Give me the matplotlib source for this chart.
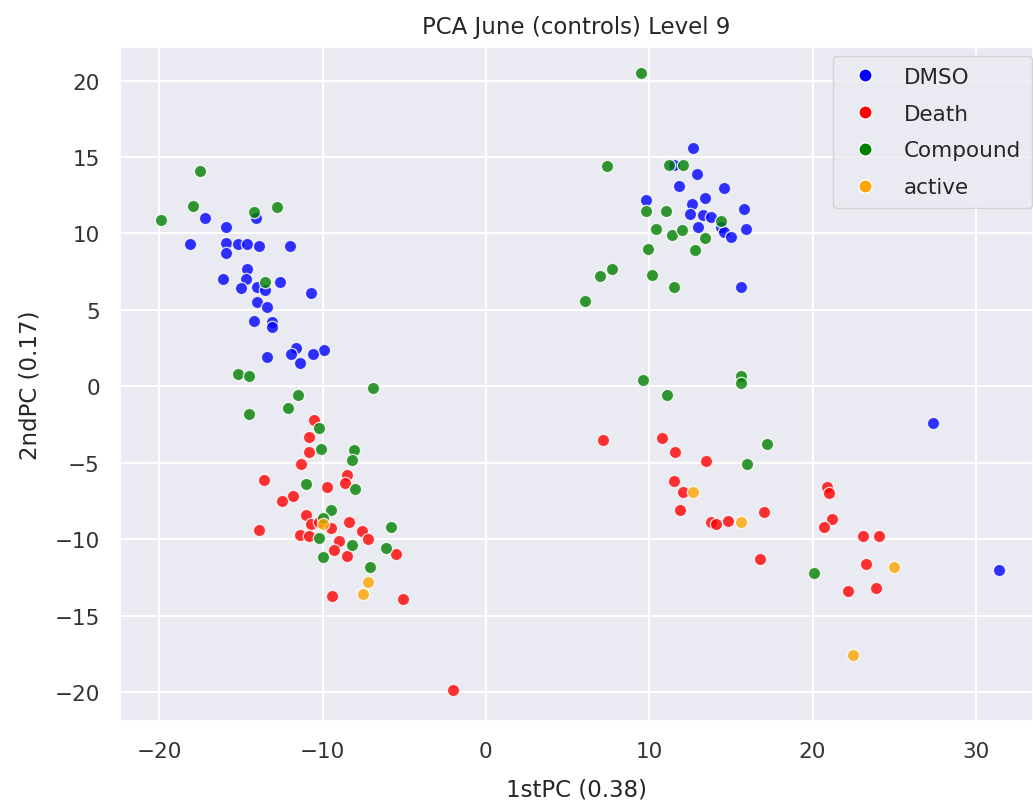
import matplotlib
matplotlib.use("Agg")
import matplotlib.pyplot as plt
import seaborn as sns
from matplotlib.lines import Line2D

sns.set_theme(style="darkgrid")
plt.rcParams['font.family'] = ['DejaVu Sans']

categories = ["DMSO", "Death", "Compound", "active"]
colors = ["blue", "red", "green", "orange"]

dmso_x = [-17.2, -14.1, -15.9, -18.1, -15.9, -15.2, -14.6, -13.9, -12.0, -15.9, -14.6, -14.7,
          -16.1, -12.6, -15.0, -14.0, -13.5, -10.7, -14.0, -13.4, -14.2, -13.1, -13.1, -11.6,
          -9.9, -11.9, -10.6, -13.4, -11.4,
          12.7, 11.5, 12.9, 11.8, 14.6, 9.8, 13.4, 12.6, 12.5, 13.3, 13.8, 15.8, 13.0, 14.4,
          14.6, 15.0, 15.9, 15.6, 27.4, 31.4]
dmso_y = [11.0, 11.0, 10.4, 9.3, 9.4, 9.3, 9.3, 9.2, 9.2, 8.7, 7.7, 7.0,
          7.0, 6.8, 6.4, 6.5, 6.3, 6.1, 5.5, 5.2, 4.3, 4.2, 3.9, 2.5,
          2.4, 2.1, 2.1, 1.9, 1.5,
          15.6, 14.5, 13.9, 13.1, 13.0, 12.2, 12.3, 11.9, 11.3, 11.2, 11.1, 11.6, 10.4, 10.4,
          10.1, 9.8, 10.3, 6.5, -2.4, -12.0]

death_x = [-10.5, -10.8, -10.8, -11.3, -8.5, -8.6, -13.6, -9.7, -11.8, -12.5, -11.0, -10.7,
           -10.2, -9.5, -8.4, -7.6, -7.2, -13.9, -11.4, -10.8, -9.0, -9.3, -8.5, -5.5,
           -9.4, -5.1, -2.0,
           7.2, 10.8, 11.6, 13.5, 11.5, 12.1, 11.9, 13.8, 14.1, 14.8, 17.0, 16.8,
           20.9, 21.0, 21.2, 20.7, 23.1, 24.1, 23.3, 23.9, 22.2]
death_y = [-2.2, -3.3, -4.3, -5.1, -5.8, -6.3, -6.1, -6.6, -7.2, -7.5, -8.4, -9.0,
           -8.9, -9.3, -8.9, -9.5, -10.0, -9.4, -9.7, -9.8, -10.1, -10.7, -11.1, -11.0,
           -13.7, -13.9, -19.9,
           -3.5, -3.4, -4.3, -4.9, -6.2, -6.9, -8.1, -8.9, -9.0, -8.8, -8.2, -11.3,
           -6.6, -7.0, -8.7, -9.2, -9.8, -9.8, -11.6, -13.2, -13.4]

compound_x = [-17.5, -17.9, -19.9, -14.2, -12.8, -13.5, -15.2, -14.5, -6.9, -11.5, -12.1,
              -14.5, -10.2, -10.1, -8.1, -8.2, -11.0, -8.0, -9.5, -10.0, -5.8, -10.2, -8.2,
              -6.1, -10.0, -7.1,
              9.5, 7.4, 11.2, 12.1, 9.8, 11.0, 14.4, 10.4, 11.4, 12.0, 13.4, 9.9, 12.8, 7.7,
              7.0, 10.2, 11.5, 6.1, 9.6, 15.6, 15.6, 11.1, 17.2, 16.0, 20.1]
compound_y = [14.1, 11.8, 10.9, 11.4, 11.7, 6.8, 0.8, 0.7, -0.1, -0.6, -1.4,
              -1.8, -2.7, -4.1, -4.2, -4.8, -6.4, -6.7, -8.1, -8.6, -9.2, -9.9, -10.4,
              -10.6, -11.2, -11.8,
              20.5, 14.4, 14.5, 14.5, 11.5, 11.5, 10.8, 10.3, 9.9, 10.2, 9.7, 9.0, 8.9, 7.7,
              7.2, 7.3, 6.5, 5.6, 0.4, 0.7, 0.2, -0.6, -3.8, -5.1, -12.2]

active_x = [-10.0, -7.2, -7.5, 12.7, 15.6, 25.0, 22.5]
active_y = [-9.0, -12.8, -13.6, -6.9, -8.9, -11.8, -17.6]

W, H = 1033, 803
fig = plt.figure(figsize=(W / 100, H / 100), dpi=100)
ax = fig.add_axes([120 / W, 81 / H, (1033 - 120) / W, (722 - 48) / H])

series = [(dmso_x, dmso_y), (death_x, death_y), (compound_x, compound_y), (active_x, active_y)]
for (xs, ys), c in zip(series, colors):
    ax.scatter(xs, ys, s=78, c=c, alpha=0.8, edgecolors="white", linewidths=1.0, zorder=3)

ax.set_xlim(-22.4, 33.5)
ax.set_ylim(-21.9, 22.2)
ax.set_xticks([-20, -10, 0, 10, 20, 30])
ax.set_yticks([-20, -15, -10, -5, 0, 5, 10, 15, 20])
ax.tick_params(labelsize=15.5, colors="#333333", pad=8.5)
ax.grid(True, color="white", linewidth=1.5)

ax.set_title("PCA June (controls) Level 9", fontsize=16.5, color="#262626", pad=10)
ax.set_xlabel("1stPC (0.38)", fontsize=16.5, color="#262626", labelpad=12)
ax.set_ylabel("2ndPC (0.17)", fontsize=16.5, color="#262626", labelpad=9)

handles = [Line2D([0], [0], marker="o", linestyle="", markersize=9.5, markerfacecolor=c,
                  markeredgecolor="white", markeredgewidth=1.0) for c in colors]
leg = ax.legend(handles, categories, loc="upper right", bbox_to_anchor=(0.999, 0.9866),
                borderaxespad=0, fontsize=15.5, frameon=True, handletextpad=0.8,
                borderpad=0.5, labelspacing=0.78)
leg.get_frame().set_facecolor("#eaeaf2")
leg.get_frame().set_edgecolor("#cccccc")
for t in leg.get_texts():
    t.set_color("#262626")

fig.savefig("out.png", dpi=100)
